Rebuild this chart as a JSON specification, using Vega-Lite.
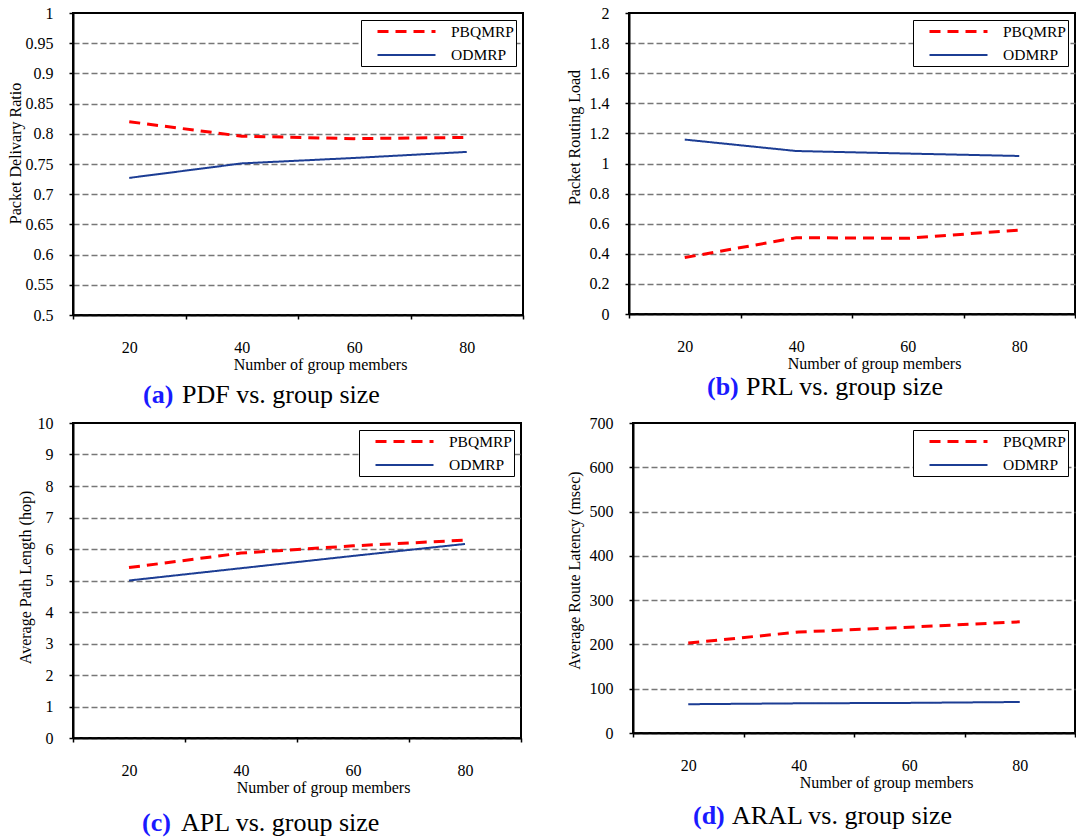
{
  "$schema": "https://vega.github.io/schema/vega-lite/v6.json",
  "autosize": {"type": "pad"},
  "padding": {"left": 6, "top": 4, "right": 0, "bottom": 0},
  "background": "white",
  "spacing": 5,
  "vconcat": [
    {
      "bounds": "flush",
      "spacing": 106,
      "resolve": {"scale": {"color": "independent", "strokeDash": "independent", "strokeWidth": "independent"}, "legend": {"color": "independent", "strokeDash": "independent", "strokeWidth": "independent"}},
      "hconcat": [
        {
          "width": 450, "height": 302,
          "data": {"values": [
            {"members": 20, "series": "PBQMRP", "value": 0.820},
            {"members": 40, "series": "PBQMRP", "value": 0.796},
            {"members": 60, "series": "PBQMRP", "value": 0.792},
            {"members": 80, "series": "PBQMRP", "value": 0.794},
            {"members": 20, "series": "ODMRP", "value": 0.727},
            {"members": 40, "series": "ODMRP", "value": 0.751},
            {"members": 60, "series": "ODMRP", "value": 0.760},
            {"members": 80, "series": "ODMRP", "value": 0.770}
          ]},
          "title": {"text": "(a)", "subtitle": "\u200b\u00a0\u00a0\u00a0\u00a0\u00a0\u00a0PDF vs. group size", "dx": 70, "offset": 10},
          "mark": {"type": "line"},
          "encoding": {
            "x": {"field": "members", "type": "quantitative", "scale": {"domain": [10, 90], "nice": false, "zero": false},
                  "axis": {"values": [10, 20, 30, 40, 50, 60, 70, 80, 90], "labelExpr": "datum.value % 20 == 0 ? datum.label : ''",
                           "tickOpacity": {"condition": {"test": "datum.value % 20 == 0", "value": 0}, "value": 1},
                           "title": "Number of group members", "titleX": 247}},
            "y": {"field": "value", "type": "quantitative", "scale": {"domain": [0.5, 1], "nice": false, "zero": false},
                  "axis": {"values": [0.5, 0.55, 0.6, 0.65, 0.7, 0.75, 0.8, 0.85, 0.9, 0.95, 1], "format": ".2~f",
                           "gridOpacity": {"condition": {"test": "datum.value >= 1", "value": 0}, "value": 1},
                           "title": "Packet Delivary Ratio", "titleY": 140, "titlePadding": 2}},
            "color": {"field": "series", "type": "nominal", "scale": {"domain": ["PBQMRP", "ODMRP"], "range": ["#ff0000", "#1c3d94"]}, "legend": {"title": null}},
            "strokeDash": {"field": "series", "type": "nominal", "scale": {"domain": ["PBQMRP", "ODMRP"], "range": [[11, 7], [1, 0]]}, "legend": {"title": null}},
            "strokeWidth": {"field": "series", "type": "nominal", "scale": {"domain": ["PBQMRP", "ODMRP"], "range": [3, 2]}, "legend": {"title": null}}
          }
        },
        {
          "width": 446, "height": 301,
          "data": {"values": [
            {"members": 20, "series": "PBQMRP", "value": 0.375},
            {"members": 40, "series": "PBQMRP", "value": 0.507},
            {"members": 60, "series": "PBQMRP", "value": 0.503},
            {"members": 80, "series": "PBQMRP", "value": 0.558},
            {"members": 20, "series": "ODMRP", "value": 1.159},
            {"members": 40, "series": "ODMRP", "value": 1.083},
            {"members": 60, "series": "ODMRP", "value": 1.066},
            {"members": 80, "series": "ODMRP", "value": 1.050}
          ]},
          "title": {"text": "(b)", "subtitle": "\u200b\u00a0\u00a0\u00a0\u00a0\u00a0\u00a0PRL vs. group size", "dx": 78, "offset": 3},
          "mark": {"type": "line"},
          "encoding": {
            "x": {"field": "members", "type": "quantitative", "scale": {"domain": [10, 90], "nice": false, "zero": false},
                  "axis": {"values": [10, 20, 30, 40, 50, 60, 70, 80, 90], "labelExpr": "datum.value % 20 == 0 ? datum.label : ''",
                           "tickOpacity": {"condition": {"test": "datum.value % 20 == 0", "value": 0}, "value": 1},
                           "title": "Number of group members", "titleX": 245}},
            "y": {"field": "value", "type": "quantitative", "scale": {"domain": [0, 2], "nice": false, "zero": false},
                  "axis": {"values": [0, 0.2, 0.4, 0.6, 0.8, 1, 1.2, 1.4, 1.6, 1.8, 2], "format": ".1~f",
                           "gridOpacity": {"condition": {"test": "datum.value >= 2", "value": 0}, "value": 1},
                           "title": "Packet Routing Load", "titleY": 124, "titlePadding": 7}},
            "color": {"field": "series", "type": "nominal", "scale": {"domain": ["PBQMRP", "ODMRP"], "range": ["#ff0000", "#1c3d94"]}, "legend": {"title": null}},
            "strokeDash": {"field": "series", "type": "nominal", "scale": {"domain": ["PBQMRP", "ODMRP"], "range": [[11, 7], [1, 0]]}, "legend": {"title": null}},
            "strokeWidth": {"field": "series", "type": "nominal", "scale": {"domain": ["PBQMRP", "ODMRP"], "range": [3, 2]}, "legend": {"title": null}}
          }
        }
      ]
    },
    {
      "bounds": "flush",
      "spacing": 112,
      "resolve": {"scale": {"color": "independent", "strokeDash": "independent", "strokeWidth": "independent"}, "legend": {"color": "independent", "strokeDash": "independent", "strokeWidth": "independent"}},
      "hconcat": [
        {
          "width": 448, "height": 315,
          "data": {"values": [
            {"members": 20, "series": "PBQMRP", "value": 5.41},
            {"members": 40, "series": "PBQMRP", "value": 5.87},
            {"members": 60, "series": "PBQMRP", "value": 6.10},
            {"members": 80, "series": "PBQMRP", "value": 6.28},
            {"members": 20, "series": "ODMRP", "value": 5.00},
            {"members": 40, "series": "ODMRP", "value": 5.39},
            {"members": 60, "series": "ODMRP", "value": 5.78},
            {"members": 80, "series": "ODMRP", "value": 6.16}
          ]},
          "title": {"text": "(c)", "subtitle": "\u200b\u00a0\u00a0\u00a0\u00a0\u00a0\u00a0APL vs. group size", "dx": 69, "offset": 15},
          "mark": {"type": "line"},
          "encoding": {
            "x": {"field": "members", "type": "quantitative", "scale": {"domain": [10, 90], "nice": false, "zero": false},
                  "axis": {"values": [10, 20, 30, 40, 50, 60, 70, 80, 90], "labelExpr": "datum.value % 20 == 0 ? datum.label : ''",
                           "tickOpacity": {"condition": {"test": "datum.value % 20 == 0", "value": 0}, "value": 1},
                           "title": "Number of group members", "titleX": 250}},
            "y": {"field": "value", "type": "quantitative", "scale": {"domain": [0, 10], "nice": false, "zero": false},
                  "axis": {"values": [0, 1, 2, 3, 4, 5, 6, 7, 8, 9, 10], "format": "d",
                           "gridOpacity": {"condition": {"test": "datum.value >= 10", "value": 0}, "value": 1},
                           "title": "Average Path Length (hop)", "titleY": 154, "titlePadding": 4}},
            "color": {"field": "series", "type": "nominal", "scale": {"domain": ["PBQMRP", "ODMRP"], "range": ["#ff0000", "#1c3d94"]}, "legend": {"title": null}},
            "strokeDash": {"field": "series", "type": "nominal", "scale": {"domain": ["PBQMRP", "ODMRP"], "range": [[11, 7], [1, 0]]}, "legend": {"title": null}},
            "strokeWidth": {"field": "series", "type": "nominal", "scale": {"domain": ["PBQMRP", "ODMRP"], "range": [3, 2]}, "legend": {"title": null}}
          }
        },
        {
          "width": 442, "height": 310,
          "data": {"values": [
            {"members": 20, "series": "PBQMRP", "value": 203},
            {"members": 40, "series": "PBQMRP", "value": 228},
            {"members": 60, "series": "PBQMRP", "value": 239},
            {"members": 80, "series": "PBQMRP", "value": 251},
            {"members": 20, "series": "ODMRP", "value": 65},
            {"members": 40, "series": "ODMRP", "value": 67},
            {"members": 60, "series": "ODMRP", "value": 68},
            {"members": 80, "series": "ODMRP", "value": 70}
          ]},
          "title": {"text": "(d)", "subtitle": "\u200b\u00a0\u00a0\u00a0\u00a0\u00a0\u00a0ARAL vs. group size", "dx": 60, "offset": 13},
          "mark": {"type": "line"},
          "encoding": {
            "x": {"field": "members", "type": "quantitative", "scale": {"domain": [10, 90], "nice": false, "zero": false},
                  "axis": {"values": [10, 20, 30, 40, 50, 60, 70, 80, 90], "labelExpr": "datum.value % 20 == 0 ? datum.label : ''",
                           "tickOpacity": {"condition": {"test": "datum.value % 20 == 0", "value": 0}, "value": 1},
                           "title": "Number of group members", "titleX": 253}},
            "y": {"field": "value", "type": "quantitative", "scale": {"domain": [0, 700], "nice": false, "zero": false},
                  "axis": {"values": [0, 100, 200, 300, 400, 500, 600, 700], "format": "d",
                           "gridOpacity": {"condition": {"test": "datum.value >= 700", "value": 0}, "value": 1},
                           "title": "Average Route Latency (msec)", "titleY": 147, "titlePadding": 7}},
            "color": {"field": "series", "type": "nominal", "scale": {"domain": ["PBQMRP", "ODMRP"], "range": ["#ff0000", "#1c3d94"]}, "legend": {"title": null}},
            "strokeDash": {"field": "series", "type": "nominal", "scale": {"domain": ["PBQMRP", "ODMRP"], "range": [[11, 7], [1, 0]]}, "legend": {"title": null}},
            "strokeWidth": {"field": "series", "type": "nominal", "scale": {"domain": ["PBQMRP", "ODMRP"], "range": [3, 2]}, "legend": {"title": null}}
          }
        }
      ]
    }
  ],
  "resolve": {"scale": {"color": "independent", "strokeDash": "independent", "strokeWidth": "independent"}, "legend": {"color": "independent", "strokeDash": "independent", "strokeWidth": "independent"}},
  "config": {
    "font": "Liberation Serif",
    "view": {"stroke": "black", "strokeWidth": 2},
    "axis": {
      "labelFont": "Liberation Serif", "labelFontSize": 16, "labelColor": "black",
      "titleFont": "Liberation Serif", "titleFontSize": 16, "titleFontWeight": "normal", "titleColor": "black",
      "domainColor": "black", "domainWidth": 2, "tickColor": "black", "tickWidth": 1.5, "tickSize": 4,
      "grid": false, "labelOverlap": false, "labelFlush": false
    },
    "axisY": {"grid": true, "gridColor": "#777777", "gridDash": [6, 3], "gridWidth": 1.6, "labelPadding": 16},
    "axisX": {"labelPadding": 20, "titlePadding": 1},
    "legend": {
      "orient": "top-right", "offset": 7, "strokeColor": "black", "fillColor": "white", "padding": 2,
      "labelFont": "Liberation Serif", "labelFontSize": 15.5, "labelColor": "black",
      "labelOffset": 35, "symbolOffset": 34, "symbolType": "M-3.625,0H3.625", "symbolSize": 256, "rowPadding": 6
    },
    "title": {
      "orient": "bottom", "anchor": "start", "frame": "group",
      "font": "Liberation Serif", "fontSize": 26, "fontWeight": "bold", "color": "#1a1aff",
      "subtitleFont": "Liberation Serif", "subtitleFontSize": 26, "subtitleFontWeight": "normal", "subtitleColor": "black",
      "subtitlePadding": -26
    }
  }
}
